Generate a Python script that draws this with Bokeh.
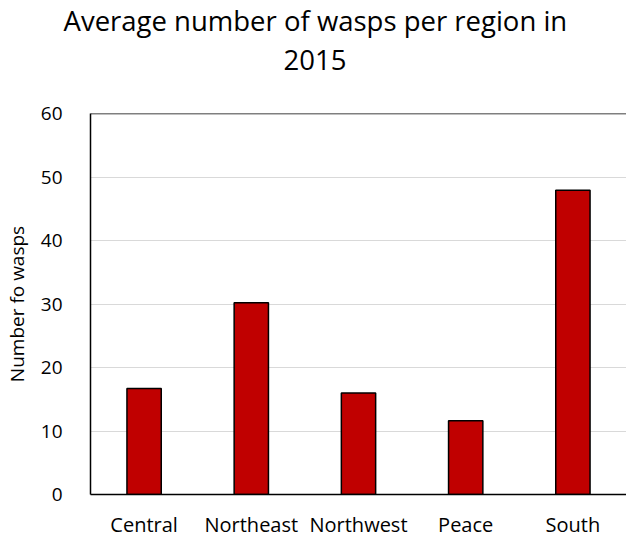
from bokeh.plotting import figure
from bokeh.models import Span, FixedTicker, FactorRange, Range1d, Title
from bokeh.embed import file_html
from bokeh.resources import INLINE

categories = ["Central", "Northeast", "Northwest", "Peace", "South"]
wasps = [16.7, 30.2, 16.0, 11.6, 47.9]
y_ticks = [0, 10, 20, 30, 40, 50, 60]
title_lines = ["Average number of wasps per region in", "2015"]

FONT = "Open Sans"

p = figure(x_range=FactorRange(*categories, range_padding=0),
           y_range=Range1d(0, 60),
           width=626, height=540, output_backend="svg", toolbar_location=None,
           min_border_left=90, min_border_right=0, min_border_top=113, min_border_bottom=0,
           title=None)

# two title lines, bottom line first (closest to the plot); left aligned with offsets to centre on the page
title_offsets = [-27, 193]
title_standoffs = [-69, 87]
for line, off, so in reversed(list(zip(title_lines, title_offsets, title_standoffs))):
    t = Title(text=line, align="left", text_font=FONT, text_font_size="27.5px",
              text_font_style="normal", text_color="#000000", offset=off,
              standoff=so)
    p.add_layout(t, "above")

p.vbar(x=categories, top=wasps, width=0.32, fill_color="#c00000",
       line_color="#000000", line_width=1.5)

p.outline_line_color = None
p.xgrid.grid_line_color = None
p.ygrid.grid_line_color = "#d9d9d9"
p.ygrid.grid_line_width = 1.2
p.ygrid.ticker = FixedTicker(ticks=[10, 20, 30, 40, 50])

p.add_layout(Span(location=60, dimension="width", line_color="#000000", line_width=1.5))

p.yaxis.ticker = FixedTicker(ticks=y_ticks)
p.yaxis.axis_label = "Number fo wasps"
p.yaxis.axis_label_text_font = FONT
p.yaxis.axis_label_text_font_size = "19px"
p.yaxis.axis_label_text_font_style = "normal"
p.yaxis.axis_label_text_color = "#000000"
p.yaxis.axis_label_standoff = 8
p.yaxis.major_label_text_font = FONT
p.yaxis.major_label_text_font_size = "19px"
p.yaxis.major_label_text_color = "#000000"
p.yaxis.major_label_standoff = 22
p.yaxis.major_tick_line_color = None
p.yaxis.minor_tick_line_color = None
p.yaxis.axis_line_color = "#000000"
p.yaxis.axis_line_width = 1.5

p.xaxis.major_label_text_font = FONT
p.xaxis.major_label_text_font_size = "20px"
p.xaxis.major_label_text_color = "#000000"
p.xaxis.major_label_standoff = 10
p.xaxis.major_tick_line_color = None
p.xaxis.axis_line_color = "#000000"
p.xaxis.axis_line_width = 1.5

open("out.html", "w").write(file_html(p, INLINE))
